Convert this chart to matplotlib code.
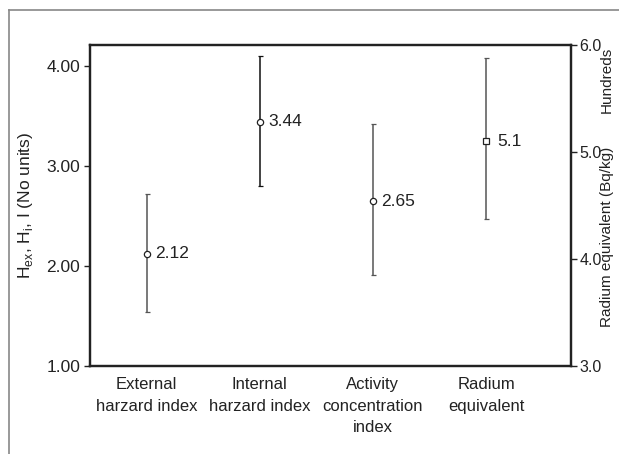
import matplotlib
matplotlib.use("Agg")
import matplotlib.pyplot as plt
from matplotlib.lines import Line2D
import numpy as np

plt.rcParams['font.family'] = ['Liberation Sans', 'DejaVu Sans']

categories = ["External\nharzard index", "Internal\nharzard index",
              "Activity\nconcentration\nindex", "Radium\nequivalent"]

# Hazard indices (left axis)
idx_values = [2.12, 3.44, 2.65]
idx_upper = [2.72, 4.10, 3.42]
idx_lower = [1.54, 2.80, 1.91]
idx_colors = ["#555555", "#111111", "#555555"]

# Radium equivalent in hundreds of Bq/kg (right axis)
ra_value = 5.1
ra_upper = 5.88
ra_lower = 4.37

left_ticks = [1.00, 2.00, 3.00, 4.00]
right_ticks = [3.0, 4.0, 5.0, 6.0]

W, H = 619, 454
fig = plt.figure(figsize=(W / 100, H / 100), dpi=100)
ax = fig.add_axes([90 / W, 1 - 366 / H, (571 - 90) / W, (366 - 45) / H])
ax2 = ax.twinx()

x = np.arange(len(categories))
for i, (v, hi, lo, c) in enumerate(zip(idx_values, idx_upper, idx_lower, idx_colors)):
    ax.errorbar(x[i], v, yerr=[[v - lo], [hi - v]], fmt='o', ms=4.5,
                mfc='white', mec='#222222', mew=0.9, ecolor=c, elinewidth=1.1,
                capsize=1.8, capthick=1.0)
    ax.annotate(f"{v:.2f}", (x[i], v), xytext=(6, 0), textcoords='offset points',
                va='center', ha='left', fontsize=12.5, color='#222222')

ax2.errorbar(x[3], ra_value, yerr=[[ra_value - ra_lower], [ra_upper - ra_value]],
             fmt='s', ms=4.5, mfc='white', mec='#222222', mew=0.9,
             ecolor="#555555", elinewidth=1.1, capsize=1.8, capthick=1.0)
ax2.annotate(f"{ra_value:g}", (x[3], ra_value), xytext=(8, 0), textcoords='offset points',
             va='center', ha='left', fontsize=12.5, color='#222222')

ax.set_xlim(-0.5, 3.75)
ax.set_ylim(1.0, 4.21)
ax2.set_ylim(3.0, 6.0)

ax.set_xticks(x)
ax.set_xticklabels(categories, fontsize=12, color='#222222', linespacing=1.55)
ax.tick_params(axis='x', length=0, pad=8)

ax.set_yticks(left_ticks)
ax.set_yticklabels([f"{t:.2f}" for t in left_ticks], fontsize=12.5, color='#222222')
ax.tick_params(axis='y', direction='out', length=4, width=1, color='#222222', pad=3)

ax2.set_yticks(right_ticks)
ax2.set_yticklabels([f"{t:.1f}" for t in right_ticks], fontsize=11.5, color='#222222')
ax2.tick_params(axis='y', direction='out', length=4, width=1, color='#222222', pad=2)

for a in (ax, ax2):
    for s in a.spines.values():
        s.set_color('#222222')
        s.set_linewidth(1.6)

ax.set_ylabel(r"H$_{\mathregular{ex}}$, H$_{\mathregular{i}}$, I (No units)",
              fontsize=12.5, color='#222222', labelpad=8)
ax2.set_ylabel("Radium equivalent (Bq/kg)", fontsize=11, color='#222222',
               va='center')
ax2.yaxis.set_label_coords((607 - 90) / (571 - 90), (366 - 237) / (366 - 45))
fig.text(607 / W, 1 - 80 / H, "Hundreds", rotation=90, ha='center', va='center',
         fontsize=11, color='#222222')

# outer frame lines
fig.add_artist(Line2D([9 / W, 9 / W], [0, 1 - 10 / H], color='#888888', lw=1.2,
                      transform=fig.transFigure))
fig.add_artist(Line2D([9 / W, 1], [1 - 10 / H, 1 - 10 / H], color='#888888', lw=1.2,
                      transform=fig.transFigure))

fig.savefig("out.png", dpi=100)
